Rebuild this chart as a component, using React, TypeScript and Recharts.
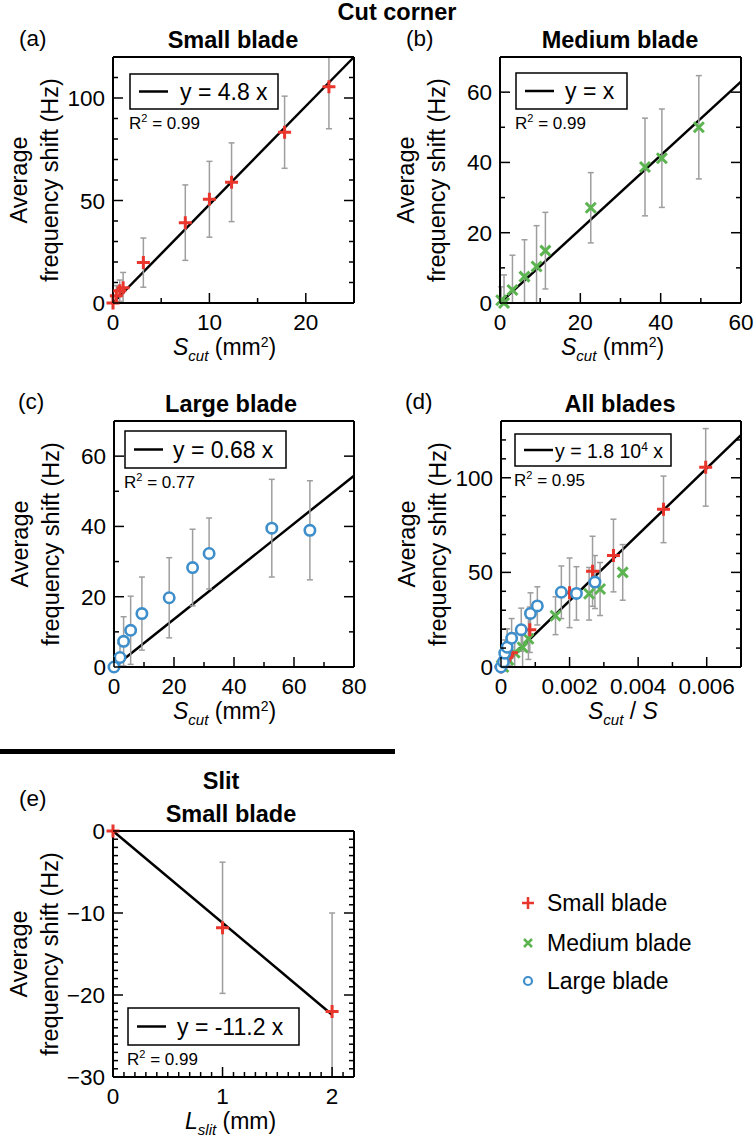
import React from 'react';
import { ScatterChart, Scatter, XAxis, YAxis, ErrorBar, ReferenceLine } from 'recharts';

const FONT = '"Liberation Sans", Arial, Helvetica, sans-serif';
const RED = '#e8362c';
const GREEN = '#5cb451';
const BLUE = '#3d8ecb';
const ERR = '#9e9e9e';

// (a) cut corner, small blade: S_cut (mm2) / shift (Hz) / error (Hz)
const smallCut = [0, 0.35, 0.7, 1.05, 3.15, 7.5, 10, 12.3, 17.8, 22.4];
const smallShift = [0, 3.5, 6, 7.5, 19.7, 39.2, 50.6, 58.9, 83.3, 105.5];
const smallErr = [0, 5, 5.2, 7.4, 12, 18.4, 18.5, 19.2, 17.6, 20.5];

// (b) cut corner, medium blade
const mediumCut = [0.3, 1.0, 3.1, 6.1, 9.1, 11.3, 22.6, 36.1, 40.3, 49.5];
const mediumShift = [0.8, 0, 3.7, 7.5, 10.4, 14.9, 27.1, 38.7, 41.2, 50];
const mediumErr = [3.8, 8, 9.9, 10.5, 11.6, 10.9, 10, 13.9, 14, 14.7];

// (c) cut corner, large blade
const largeCut = [0, 2.0, 3.2, 5.55, 9.3, 18.4, 26.2, 31.7, 52.6, 65.3];
const largeShift = [0, 2.7, 7.3, 10.45, 15.2, 19.7, 28.3, 32.3, 39.5, 38.9];
const largeErr = [0, 4, 7, 9.7, 10.4, 11.4, 10.9, 10.1, 13.9, 14.1];

// (d) all blades, S_cut / S
const smallRatio = [0, 0.0001, 0.0002, 0.0003, 0.00084, 0.002, 0.00267, 0.00328, 0.00474, 0.00597];
const mediumRatio = [0.00002, 0.00007, 0.00022, 0.0004, 0.00063, 0.0008, 0.00159, 0.00257, 0.00289, 0.00355];
const largeRatio = [0, 0.00007, 0.00011, 0.00018, 0.00031, 0.00059, 0.00086, 0.00106, 0.00176, 0.0022, 0.00274];
const largeRatioShift = [0, 2.7, 7.3, 10.45, 15.2, 19.7, 28.3, 32.3, 39.5, 38.9, 44.9];
const largeRatioErr = [0, 4, 7, 9.7, 10.4, 11.4, 10.9, 10.1, 13.9, 14.1, 14];

// (e) slit, small blade: L_slit (mm)
const slitLen = [0, 1, 2];
const slitShift = [0, -11.8, -22];
const slitErr = [0, 8, 12];

// linear fits (slope)
const fitSmall = 4.8;
const fitMedium = 1.05;
const fitLarge = 0.68;
const fitAll = 17500;
const fitSlit = -11.2;

const range = (a: number, b: number, step: number) => {
  const out: number[] = [];
  const n = Math.round((b - a) / step);
  for (let i = 0; i <= n; i++) out.push(+(a + i * step).toFixed(6));
  return out;
};

// error bars get cut at the frame like in the original
const pts = (xs: number[], ys: number[], es: number[], yDom: number[]) =>
  xs.map((x, i) => ({
    x,
    y: ys[i],
    err: [Math.min(es[i], ys[i] - yDom[0]), Math.min(es[i], yDom[1] - ys[i])],
  }));

const plusShape = (p: any) => (
  <path d={`M${p.cx - 6.5},${p.cy}H${p.cx + 6.5}M${p.cx},${p.cy - 6.5}V${p.cy + 6.5}`} stroke={RED} strokeWidth={3} fill="none" />
);
const crossShape = (p: any) => (
  <path d={`M${p.cx - 5},${p.cy - 5}L${p.cx + 5},${p.cy + 5}M${p.cx - 5},${p.cy + 5}L${p.cx + 5},${p.cy - 5}`} stroke={GREEN} strokeWidth={3} fill="none" />
);
const ringShape = (p: any) => <circle cx={p.cx} cy={p.cy} r={5.2} fill="#fff" stroke={BLUE} strokeWidth={2.6} />;

const minus = (v: number) => (v < 0 ? '\u2212' + Math.abs(v) : String(v));

const tickFn = (side: string, majors: number[], label: boolean, fmt: (v: number) => string = String) => (p: any) => {
  const v = p.payload.value;
  const major = majors.some((m) => Math.abs(m - v) < 1e-9);
  const len = major ? 10 : 5;
  const x = Number(p.x);
  const y = Number(p.y);
  let ln;
  if (side === 'bottom') ln = [x, y, x, y - len];
  else if (side === 'top') ln = [x, y, x, y + len];
  else if (side === 'left') ln = [x, y, x + len, y];
  else ln = [x, y, x - len, y];
  return (
    <g>
      <line x1={ln[0]} y1={ln[1]} x2={ln[2]} y2={ln[3]} stroke="#000" strokeWidth={1.5} />
      {label && major && side === 'bottom' && (
        <text x={x} y={y + 27} textAnchor="middle" fontSize={22.5} fontFamily={FONT} fill="#000">{fmt(v)}</text>
      )}
      {label && major && side === 'left' && (
        <text x={x - 8} y={y + 8} textAnchor="end" fontSize={22.5} fontFamily={FONT} fill="#000">{fmt(v)}</text>
      )}
    </g>
  );
};

const AXIS = { stroke: '#000', strokeWidth: 2 };
// space around the plot box; every axis is 1px thick, so the margins give that back
const M = { left: 62, top: 12, right: 14, bottom: 36 };
const MARGIN = { left: M.left - 1, top: M.top - 1, right: M.right - 1, bottom: M.bottom - 1 };

type Plot = { l: number; t: number; r: number; b: number };

function Panel(props: {
  plot: Plot;
  xDomain: [number, number];
  yDomain: [number, number];
  xTicks: number[];
  xMajor: number[];
  yTicks: number[];
  yMajor: number[];
  yFmt?: (v: number) => string;
  series: { data: any[]; shape: (p: any) => React.ReactElement }[];
  slope: number;
  xEnd: number;
}) {
  const { plot } = props;
  const w = plot.r - plot.l + M.left + M.right;
  const h = plot.b - plot.t + M.top + M.bottom;
  const yFmt = props.yFmt || String;
  return (
    <div style={{ position: 'absolute', left: plot.l - M.left, top: plot.t - M.top }}>
      <ScatterChart width={w} height={h} margin={MARGIN}>
        <XAxis xAxisId="b" orientation="bottom" type="number" dataKey="x" domain={props.xDomain} ticks={props.xTicks}
          interval={0} height={1} tickSize={0} tickMargin={0} tickLine={false} axisLine={AXIS}
          tick={tickFn('bottom', props.xMajor, true)} />
        <XAxis xAxisId="t" orientation="top" type="number" domain={props.xDomain} ticks={props.xTicks} allowDataOverflow
          interval={0} height={1} tickSize={0} tickMargin={0} tickLine={false} axisLine={AXIS}
          tick={tickFn('top', props.xMajor, false)} />
        <YAxis yAxisId="l" orientation="left" type="number" dataKey="y" domain={props.yDomain} ticks={props.yTicks}
          interval={0} width={1} tickSize={0} tickMargin={0} tickLine={false} axisLine={AXIS}
          tick={tickFn('left', props.yMajor, true, yFmt)} />
        <YAxis yAxisId="r" orientation="right" type="number" domain={props.yDomain} ticks={props.yTicks} allowDataOverflow
          interval={0} width={1} tickSize={0} tickMargin={0} tickLine={false} axisLine={AXIS}
          tick={tickFn('right', props.yMajor, false)} />
        <ReferenceLine xAxisId="b" yAxisId="l" ifOverflow="visible" stroke="#000" strokeWidth={2.5}
          segment={[{ x: 0, y: 0 }, { x: props.xEnd, y: props.slope * props.xEnd }]} />
        {props.series.map((s, i) => (
          <Scatter key={i} xAxisId="b" yAxisId="l" data={s.data} shape={s.shape} isAnimationActive={false}>
            <ErrorBar dataKey="err" direction="y" width={3} stroke={ERR} strokeWidth={1.5} isAnimationActive={false} />
          </Scatter>
        ))}
      </ScatterChart>
    </div>
  );
}

const T = (p: { x: number; y: number; size?: number; bold?: boolean; anchor?: string; children: any; rot?: boolean }) => (
  <text x={p.x} y={p.y} fontSize={p.size || 22.5} fontWeight={p.bold ? 'bold' : 'normal'} textAnchor={(p.anchor || 'start') as any}
    fontFamily={FONT} fill="#000" transform={p.rot ? `rotate(-90 ${p.x} ${p.y})` : undefined}>
    {p.children}
  </text>
);

const YLabel = ({ plot }: { plot: Plot }) => {
  const cy = (plot.t + plot.b) / 2;
  return (
    <g>
      <T x={plot.l - 86} y={cy} size={23.5} anchor="middle" rot>Average</T>
      <T x={plot.l - 55} y={cy} size={23.5} anchor="middle" rot>frequency shift (Hz)</T>
    </g>
  );
};

const ScutLabel = ({ x, y }: { x: number; y: number }) => (
  <T x={x} y={y} size={23}>
    <tspan fontStyle="italic">S</tspan>
    <tspan fontStyle="italic" fontSize={15} dy={6}>cut</tspan>
    <tspan dy={-6}> (mm</tspan>
    <tspan fontSize={14} dy={-8}>2</tspan>
    <tspan dy={8}>)</tspan>
  </T>
);

const FitBox = (p: { x: number; y: number; w: number; h: number; text: any; size?: number; r2: string; tx: number }) => (
  <g>
    <rect x={p.x} y={p.y} width={p.w} height={p.h} fill="#fff" stroke="#000" strokeWidth={1.5} />
    <line x1={p.x + 9} x2={p.x + 38} y1={p.y + p.h / 2} y2={p.y + p.h / 2} stroke="#000" strokeWidth={2.5} />
    <T x={p.tx} y={p.y + p.h / 2 + 8} size={p.size || 23}>{p.text}</T>
    <T x={p.x - 1} y={p.y + p.h + 20} size={17}>
      R<tspan fontSize={11} dy={-7}>2</tspan><tspan dy={7}> = {p.r2}</tspan>
    </T>
  </g>
);

const plotA: Plot = { l: 113, t: 57, r: 354, b: 303 };
const plotB: Plot = { l: 500, t: 57, r: 741, b: 303 };
const plotC: Plot = { l: 114, t: 421, r: 354, b: 667 };
const plotD: Plot = { l: 501, t: 421, r: 741, b: 667 };
const plotE: Plot = { l: 113, t: 831, r: 354, b: 1077 };

export default function App() {
  const yA: [number, number] = [0, 120];
  const yB: [number, number] = [0, 70];
  const yD: [number, number] = [0, 130];
  const yE: [number, number] = [-30, 0];
  return (
    <div style={{ position: 'absolute', left: 0, top: 0, width: 756, height: 1143, background: '#fff', fontFamily: FONT }}>
      <Panel plot={plotA} xDomain={[0, 25]} yDomain={yA} xTicks={range(0, 25, 5)} xMajor={[0, 10, 20]}
        yTicks={range(0, 120, 10)} yMajor={[0, 50, 100]} slope={fitSmall} xEnd={25}
        series={[{ data: pts(smallCut, smallShift, smallErr, yA), shape: plusShape }]} />
      <Panel plot={plotB} xDomain={[0, 60]} yDomain={yB} xTicks={range(0, 60, 10)} xMajor={[0, 20, 40, 60]}
        yTicks={range(0, 70, 10)} yMajor={[0, 20, 40, 60]} slope={fitMedium} xEnd={60}
        series={[{ data: pts(mediumCut, mediumShift, mediumErr, yB), shape: crossShape }]} />
      <Panel plot={plotC} xDomain={[0, 80]} yDomain={yB} xTicks={range(0, 80, 10)} xMajor={[0, 20, 40, 60, 80]}
        yTicks={range(0, 70, 10)} yMajor={[0, 20, 40, 60]} slope={fitLarge} xEnd={80}
        series={[{ data: pts(largeCut, largeShift, largeErr, yB), shape: ringShape }]} />
      <Panel plot={plotD} xDomain={[0, 0.007]} yDomain={yD} xTicks={range(0, 0.007, 0.001)} xMajor={[0, 0.002, 0.004, 0.006]}
        yTicks={range(0, 130, 10)} yMajor={[0, 50, 100]} slope={fitAll} xEnd={0.007}
        series={[
          { data: pts(mediumRatio, mediumShift, mediumErr, yD), shape: crossShape },
          { data: pts(smallRatio, smallShift, smallErr, yD), shape: plusShape },
          { data: pts(largeRatio, largeRatioShift, largeRatioErr, yD), shape: ringShape },
        ]} />
      <Panel plot={plotE} xDomain={[0, 2.2]} yDomain={yE} xTicks={range(0, 2.2, 0.1)} xMajor={[0, 1, 2]}
        yTicks={range(-30, 0, 1)} yMajor={[-30, -20, -10, 0]} yFmt={minus} slope={fitSlit} xEnd={2}
        series={[{ data: pts(slitLen, slitShift, slitErr, yE), shape: plusShape }]} />

      <svg width={756} height={1143} style={{ position: 'absolute', left: 0, top: 0, pointerEvents: 'none' }}>
        <T x={397} y={20} size={23.5} bold anchor="middle">Cut corner</T>

        <T x={19} y={46}>(a)</T>
        <T x={233} y={48} size={23.5} bold anchor="middle">Small blade</T>
        <YLabel plot={plotA} />
        <ScutLabel x={173} y={355} />
        <FitBox x={130} y={74} w={148} h={35} tx={180} text="y = 4.8 x" r2="0.99" />

        <T x={406} y={46}>(b)</T>
        <T x={620} y={48} size={23.5} bold anchor="middle">Medium blade</T>
        <YLabel plot={plotB} />
        <ScutLabel x={561} y={355} />
        <FitBox x={516} y={73} w={111} h={36} tx={565} text="y = x" r2="0.99" />

        <T x={18} y={409}>(c)</T>
        <T x={231} y={412} size={23.5} bold anchor="middle">Large blade</T>
        <YLabel plot={plotC} />
        <ScutLabel x={173} y={719} />
        <FitBox x={125} y={431} w={161} h={37} tx={173} text="y = 0.68 x" r2="0.77" />

        <T x={405} y={409}>(d)</T>
        <T x={620} y={412} size={23.5} bold anchor="middle">All blades</T>
        <YLabel plot={plotD} />
        <T x={588} y={719} size={23}>
          <tspan fontStyle="italic">S</tspan>
          <tspan fontStyle="italic" fontSize={15} dy={6}>cut</tspan>
          <tspan dy={-6}> / </tspan>
          <tspan fontStyle="italic">S</tspan>
        </T>
        <FitBox x={515} y={434} w={156} h={32} tx={555} size={19.5} r2="0.95"
          text={<>y = 1.8 10<tspan fontSize={12} dy={-7}>4</tspan><tspan dy={7}> x</tspan></>} />

        <rect x={0} y={749} width={395} height={5} fill="#000" />

        <T x={221} y={789} size={23.5} bold anchor="middle">Slit</T>
        <T x={19} y={806}>(e)</T>
        <T x={231} y={822} size={23.5} bold anchor="middle">Small blade</T>
        <YLabel plot={plotE} />
        <T x={185} y={1129} size={23}>
          <tspan fontStyle="italic">L</tspan>
          <tspan fontStyle="italic" fontSize={15} dy={6}>slit</tspan>
          <tspan dy={-6}> (mm)</tspan>
        </T>
        <FitBox x={128} y={1008} w={171} h={37} tx={177} text="y = -11.2 x" r2="0.99" />

        <path d="M522,903H534M528,897V909" stroke={RED} strokeWidth={2.5} />
        <T x={547} y={911} size={23}>Small blade</T>
        <path d="M524,939L532,947M524,947L532,939" stroke={GREEN} strokeWidth={2.5} />
        <T x={547} y={951} size={23}>Medium blade</T>
        <circle cx={528} cy={981} r={4} fill="#fff" stroke={BLUE} strokeWidth={2.2} />
        <T x={547} y={989} size={23}>Large blade</T>
      </svg>
    </div>
  );
}
